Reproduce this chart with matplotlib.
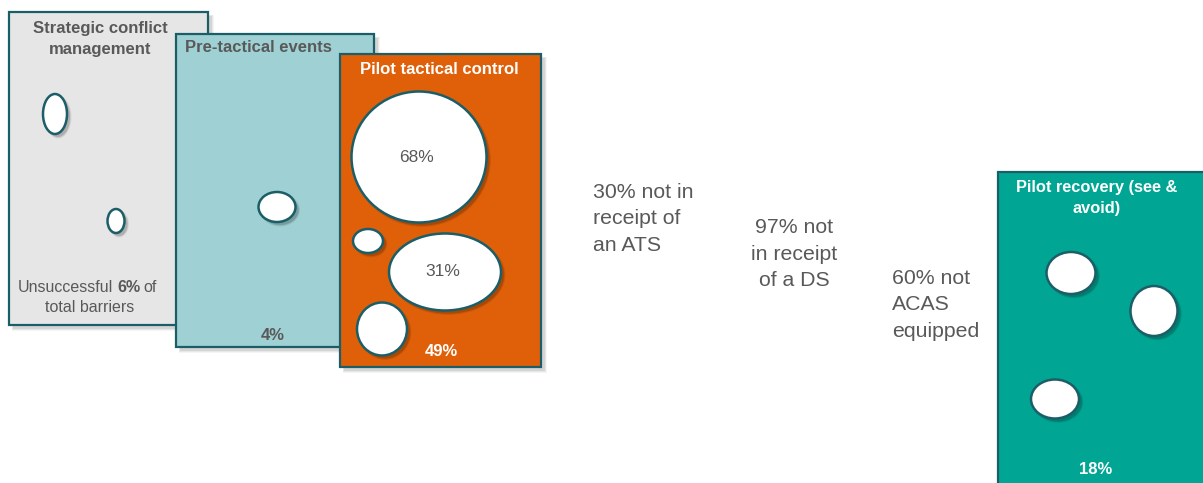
import matplotlib
matplotlib.use("Agg")
import matplotlib.pyplot as plt
from matplotlib.patches import Rectangle, Ellipse

plt.rcParams['font.family'] = ['Liberation Sans', 'DejaVu Sans']

# barrier stages and their share of unsuccessful barriers
stages = ["Strategic conflict\nmanagement", "Pre-tactical events",
          "Pilot tactical control", "Pilot recovery (see &\navoid)"]
stage_pct = [6, 4, 49, 18]
tactical_pcts = [68, 31]
notes = ["30% not in\nreceipt of\nan ATS", "97% not\nin receipt\nof a DS", "60% not\nACAS\nequipped"]

# layout in pixels
panels = [(9, 12, 199, 313), (176, 34, 198, 313), (340, 54, 201, 313), (998, 172, 215, 320)]
fills = ["#e6e6e6", "#9fd0d3", "#e0600a", "#00a693"]
edge = "#1b5e68"
grey = "#595959"

holes = [
    [(55, 114, 24, 40), (116, 221, 17, 24)],
    [(277, 207, 37, 30)],
    [(419, 157, 135, 131), (368, 241, 30, 24), (445, 272, 112, 77), (382, 329, 50, 53)],
    [(1071, 273, 49, 42), (1154, 311, 47, 50), (1055, 399, 48, 39)],
]

fig = plt.figure(figsize=(12.03, 4.83), dpi=100)
ax = fig.add_axes([0, 0, 1, 1])
ax.set_xlim(0, 1203)
ax.set_ylim(483, 0)
ax.axis('off')


def soft_shadow(patch_cls, xy, *size, z, dx, dy, alpha):
    # a few stacked translucent copies give a blurred drop shadow
    for k, a in enumerate([alpha * 0.5, alpha * 0.7, alpha]):
        grow = (2 - k) * 1.5
        args = [s + grow for s in size]
        if patch_cls is Rectangle:
            p = Rectangle((xy[0] + dx - grow / 2, xy[1] + dy - grow / 2), *args,
                          fc="#000000", ec="none", alpha=a, zorder=z)
        else:
            p = Ellipse((xy[0] + dx, xy[1] + dy), *args, fc="#000000", ec="none",
                        alpha=a, zorder=z)
        ax.add_patch(p)


for i, ((x, y, w, h), fc) in enumerate(zip(panels, fills)):
    z = 2 * i + 1
    soft_shadow(Rectangle, (x, y), w, h, z=z, dx=4, dy=4, alpha=0.08)
    ax.add_patch(Rectangle((x, y), w, h, fc=fc, ec=edge, lw=1.6, zorder=z + 0.1))
    for (cx, cy, ew, eh) in holes[i]:
        soft_shadow(Ellipse, (cx, cy), ew, eh, z=z + 0.2, dx=3, dy=3, alpha=0.12)
        ax.add_patch(Ellipse((cx, cy), ew, eh, fc="white", ec=edge, lw=1.8, zorder=z + 0.3))

# panel titles
ax.text(100, 39, stages[0], ha='center', va='center', fontsize=12, fontweight='bold',
        color=grey, linespacing=1.5, zorder=2)
ax.text(185, 48, stages[1], ha='left', va='center', fontsize=12, fontweight='bold',
        color=grey, zorder=4)
ax.text(439, 69, stages[2], ha='center', va='center', fontsize=12, fontweight='bold',
        color='white', zorder=6)
ax.text(1097, 198, stages[3], ha='center', va='center', fontsize=11.8, fontweight='bold',
        color='white', linespacing=1.45, zorder=8)

# percentages
ax.text(18, 288, "Unsuccessful", ha='left', va='center', fontsize=11.5, color=grey, zorder=2)
ax.text(117, 288, f"{stage_pct[0]}%", ha='left', va='center', fontsize=11.5,
        fontweight='bold', color=grey, zorder=2)
ax.text(143, 288, "of", ha='left', va='center', fontsize=11.5, color=grey, zorder=2)
ax.text(90, 308, "total barriers", ha='center', va='center', fontsize=11.5, color=grey, zorder=2)
ax.text(273, 335, f"{stage_pct[1]}%", ha='center', va='center', fontsize=12,
        fontweight='bold', color=grey, zorder=4)
ax.text(441, 351, f"{stage_pct[2]}%", ha='center', va='center', fontsize=12,
        fontweight='bold', color='white', zorder=6)
ax.text(1096, 470, f"{stage_pct[3]}%", ha='center', va='center', fontsize=12,
        fontweight='bold', color='white', zorder=8)

ax.text(417, 157, f"{tactical_pcts[0]}%", ha='center', va='center', fontsize=12.5, color=grey, zorder=7)
ax.text(443, 272, f"{tactical_pcts[1]}%", ha='center', va='center', fontsize=12.5, color=grey, zorder=7)

# notes between stages
ax.text(593, 219, notes[0], ha='left', va='center', fontsize=15.3, color=grey, linespacing=1.47)
ax.text(794, 254, notes[1], ha='center', va='center', fontsize=15.3, color=grey, linespacing=1.47)
ax.text(892, 305, notes[2], ha='left', va='center', fontsize=15.3, color=grey, linespacing=1.47)

fig.savefig("out.png", dpi=100)
